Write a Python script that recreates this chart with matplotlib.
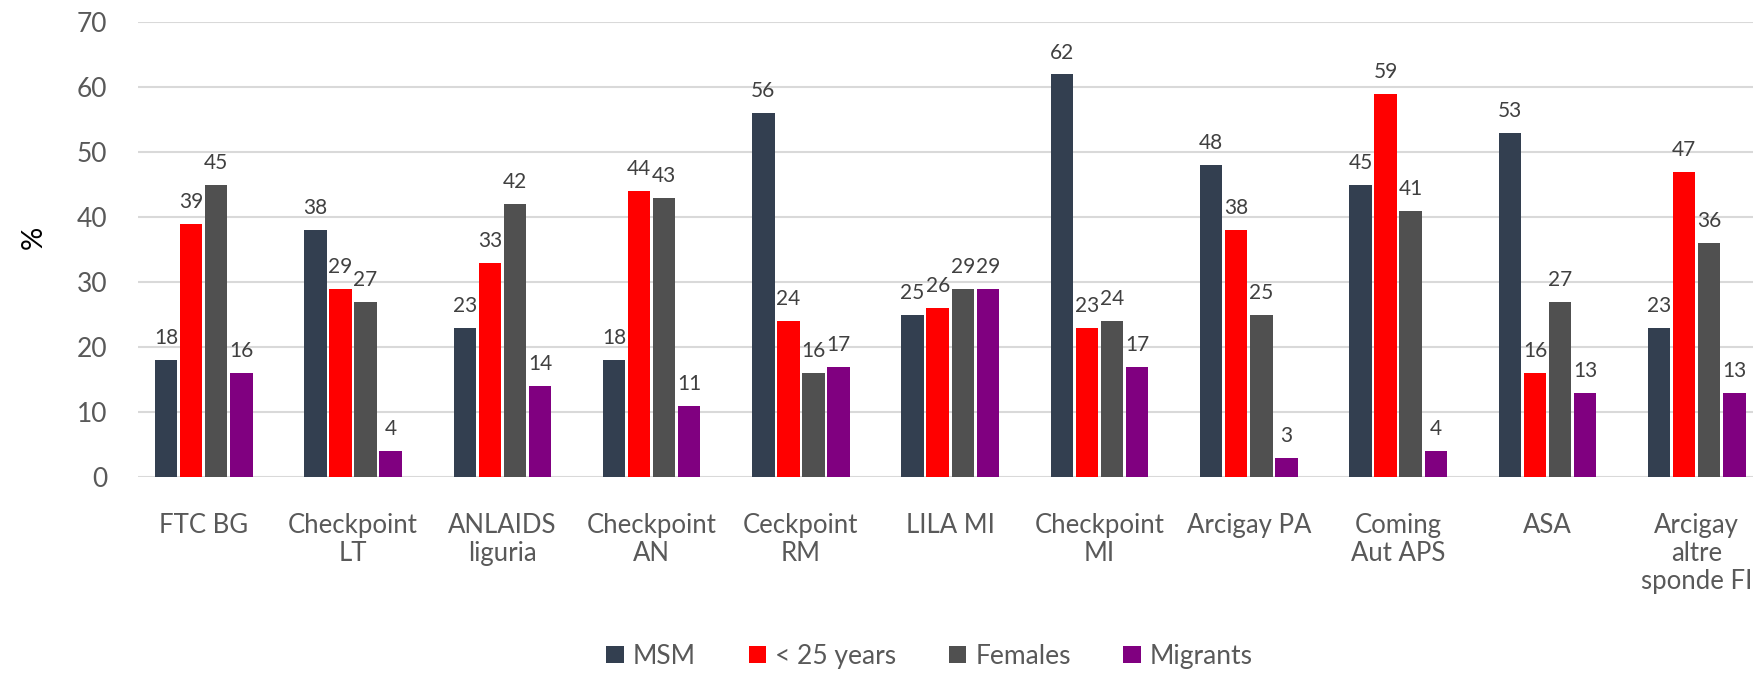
import numpy as np
import matplotlib.pyplot as plt

categories = ["FTC BG", "Checkpoint\nLT", "ANLAIDS\nliguria", "Checkpoint\nAN", "Ceckpoint\nRM",
              "LILA MI", "Checkpoint\nMI", "Arcigay PA", "Coming\nAut APS", "ASA",
              "Arcigay\naltre\nsponde FI"]
series_names = ["MSM", "< 25 years", "Females", "Migrants"]
msm = [18, 38, 23, 18, 56, 25, 62, 48, 45, 53, 23]
under25 = [39, 29, 33, 44, 24, 26, 23, 38, 59, 16, 47]
females = [45, 27, 42, 43, 16, 29, 24, 25, 41, 27, 36]
migrants = [16, 4, 14, 11, 17, 29, 17, 3, 4, 13, 13]
colors = ["#333F50", "#FF0000", "#505050", "#800080"]

plt.rcParams['font.family'] = ['Lato', 'DejaVu Sans']

fig = plt.figure(figsize=(17.54, 6.73), dpi=100)
ax = fig.add_axes([0.0787, 0.291, 0.921, 0.676])

x = np.arange(len(categories))
step = 0.168
width = 0.15
for i, (vals, name, c) in enumerate(zip([msm, under25, females, migrants], series_names, colors)):
    pos = x + (i - 1.5) * step
    ax.bar(pos, vals, width, color=c, label=name, zorder=3)
    for p, v in zip(pos, vals):
        ax.text(p, v + 1.8, str(v), ha='center', va='bottom', fontsize=15, color='#404040')

ax.set_ylim(0, 70)
ax.set_xlim(-0.44, 10.38)
ax.set_yticks(range(0, 71, 10))
ax.yaxis.grid(True, color='#D9D9D9', linewidth=1.5, zorder=0)
for s in ['top', 'right', 'left', 'bottom']:
    ax.spines[s].set_visible(False)
ax.tick_params(axis='both', length=0, labelcolor='#595959')
ax.tick_params(axis='y', labelsize=19, pad=22)
ax.set_xticks(x)
ax.set_xticklabels(categories, fontsize=18.5, linespacing=1.15)
ax.tick_params(axis='x', pad=26)

fig.text(0.019, 0.648, "%", rotation=90, fontsize=21, color='black', ha='center', va='center')

fig.legend(loc='center', bbox_to_anchor=(0.53, 0.025), ncol=4, frameon=False, fontsize=19,
           handlelength=0.65, handleheight=0.65, handletextpad=0.35, columnspacing=2.0,
           labelcolor='#595959', borderpad=0)

fig.savefig("out.png", dpi=100)
